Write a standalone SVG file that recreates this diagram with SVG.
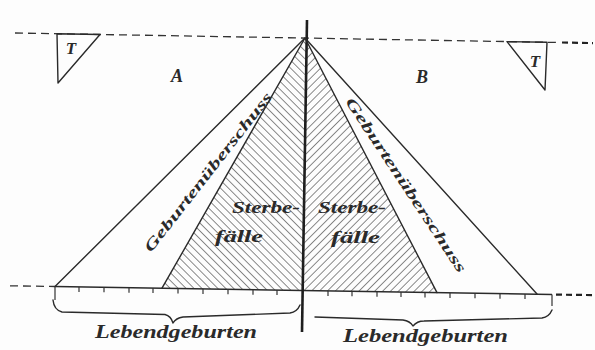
<svg xmlns="http://www.w3.org/2000/svg" width="595" height="350" viewBox="0 0 595 350">
<style>
.ln{stroke:#2a2a2a;fill:none;stroke-width:1.4;stroke-linecap:round;stroke-linejoin:round}
.dash{stroke:#333;fill:none;stroke-width:1.3;stroke-dasharray:8 5}
.txt{font-family:"Liberation Serif","DejaVu Serif",serif;font-style:italic;font-weight:bold;fill:#2a2a2a}
.tick{stroke:#333;stroke-width:1.2}
</style>
<defs>
<pattern id="hL" patternUnits="userSpaceOnUse" width="5.6" height="10" patternTransform="rotate(-45)">
<line x1="0" y1="0" x2="0" y2="10" stroke="#333" stroke-width="1.15"/>
</pattern>
<pattern id="hR" patternUnits="userSpaceOnUse" width="5.6" height="10" patternTransform="rotate(45)">
<line x1="0" y1="0" x2="0" y2="10" stroke="#333" stroke-width="1.15"/>
</pattern>
</defs>
<rect width="595" height="350" fill="#fdfdfd"/>
<g id="hatch">
<polygon points="305,38 162,288.2 304,290.5" fill="url(#hL)"/>
<polygon points="305,38 304,290.5 437,292.6" fill="url(#hR)"/>
</g>
<g id="connectors">
<line class="dash" x1="15" y1="33" x2="560" y2="42.5"/>
<line x1="562" y1="42.5" x2="593" y2="43.1" stroke="#222" stroke-width="2.2" stroke-dasharray="6 4"/>
<line class="dash" x1="10" y1="285.8" x2="55" y2="286.5" stroke-dasharray="7 4"/>
<line x1="556" y1="294.6" x2="593" y2="295.1" stroke="#222" stroke-width="2.2" stroke-dasharray="6 4"/>
<line x1="55" y1="286.5" x2="552" y2="294.5" stroke="#2a2a2a" stroke-width="1.6"/>
<line x1="307" y1="20" x2="302" y2="332" stroke="#1e1e1e" stroke-width="2.6"/>
<polyline class="ln" points="55,286.5 305,38 537,294"/>
<polyline class="ln" points="162,288.2 305,38 437,292.6"/>
<g id="ticks">
<line class="tick" x1="79" y1="287" x2="79" y2="292"/>
<line class="tick" x1="104" y1="287.3" x2="104" y2="292.3"/>
<line class="tick" x1="129" y1="287.7" x2="129" y2="292.7"/>
<line class="tick" x1="153" y1="288.1" x2="153" y2="293.1"/>
<line class="tick" x1="178" y1="288.5" x2="178" y2="293.5"/>
<line class="tick" x1="203" y1="288.9" x2="203" y2="293.9"/>
<line class="tick" x1="228" y1="289.3" x2="228" y2="294.3"/>
<line class="tick" x1="253" y1="289.7" x2="253" y2="294.7"/>
<line class="tick" x1="277" y1="290.1" x2="277" y2="295.1"/>
<line class="tick" x1="328" y1="290.9" x2="328" y2="295.9"/>
<line class="tick" x1="352" y1="291.3" x2="352" y2="296.3"/>
<line class="tick" x1="377" y1="291.7" x2="377" y2="296.7"/>
<line class="tick" x1="401" y1="292.1" x2="401" y2="297.1"/>
<line class="tick" x1="425" y1="292.5" x2="425" y2="297.5"/>
<line class="tick" x1="450" y1="292.9" x2="450" y2="297.9"/>
<line class="tick" x1="475" y1="293.3" x2="475" y2="298.3"/>
<line class="tick" x1="500" y1="293.7" x2="500" y2="298.7"/>
<line class="tick" x1="525" y1="294.1" x2="525" y2="299.1"/>
<line class="tick" x1="55" y1="286.5" x2="55" y2="300"/>
<line class="tick" x1="552" y1="294.5" x2="552" y2="306"/>
</g>
<g id="braces">
<path class="ln" d="M53,300 Q54,310 62,312 L165,314.5 Q171,316 173,323 Q176,318 183,317 L290,313 Q297,312 300,305"/>
<path class="ln" d="M315,317 L403,320 Q410,321 413,326 Q417,321 424,321 L542,318 Q549,317 552,310"/>
</g>
</g>
<g id="nodeT1">
<polygon class="ln" points="57,33.7 100,34.5 58,83"/>
<text class="txt" x="71" y="54" font-size="17" text-anchor="middle">T</text>
</g>
<g id="nodeT2">
<polygon class="ln" points="507,41.6 547,42.3 545,90"/>
<text class="txt" x="535" y="67" font-size="17" text-anchor="middle">T</text>
</g>
<g id="nodeA"><text class="txt" x="177" y="82" font-size="18" text-anchor="middle">A</text></g>
<g id="nodeB"><text class="txt" x="422" y="83" font-size="18" text-anchor="middle">B</text></g>
<g id="labelLeft">
<text class="txt" font-size="15" text-anchor="middle" transform="translate(208,172) rotate(-52)" y="5" textLength="198" lengthAdjust="spacingAndGlyphs">Geburtenüberschuss</text>
</g>
<g id="labelRight">
<text class="txt" font-size="15" text-anchor="middle" transform="translate(406,185) rotate(56.5)" y="5" textLength="206" lengthAdjust="spacingAndGlyphs">Geburtenüberschuss</text>
</g>
<g id="sterbeL">
<text class="txt" font-size="16" x="232" y="213" textLength="68" lengthAdjust="spacingAndGlyphs">Sterbe-</text>
<text class="txt" font-size="16" x="215" y="242" textLength="48" lengthAdjust="spacingAndGlyphs">fälle</text>
</g>
<g id="sterbeR">
<text class="txt" font-size="16" x="318" y="213" textLength="68" lengthAdjust="spacingAndGlyphs">Sterbe-</text>
<text class="txt" font-size="16" x="331" y="243" textLength="49" lengthAdjust="spacingAndGlyphs">fälle</text>
</g>
<g id="lebL"><text class="txt" font-size="18" x="95" y="338" textLength="162" lengthAdjust="spacingAndGlyphs">Lebendgeburten</text></g>
<g id="lebR"><text class="txt" font-size="18" x="343" y="342" textLength="165" lengthAdjust="spacingAndGlyphs">Lebendgeburten</text></g>
</svg>
